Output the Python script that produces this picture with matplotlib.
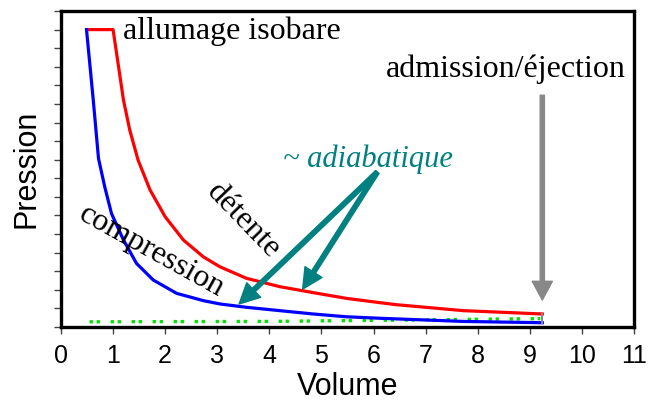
import matplotlib.pyplot as plt

# cycle Diesel
red_v = [0.5, 1.0, 1.2, 1.32, 1.48, 1.71, 2.0, 2.35, 2.73, 3.05, 3.56, 4.2, 4.84, 5.48, 6.12, 6.44, 7.72, 9.24]
red_p = [16.0, 16.0, 12.2, 10.6, 8.98, 7.37, 5.93, 4.68, 3.78, 3.24, 2.62, 2.17, 1.85, 1.54, 1.31, 1.2, 0.88, 0.70]

blue_v = [0.49, 0.62, 0.72, 0.84, 0.97, 1.2, 1.45, 1.77, 2.22, 2.73, 3.05, 3.56, 4.2, 4.84, 5.48, 6.12, 7.72, 9.24]
blue_p = [16.0, 12.2, 9.07, 7.54, 6.1, 4.68, 3.42, 2.53, 1.81, 1.42, 1.24, 1.06, 0.88, 0.70, 0.55, 0.47, 0.30, 0.23]

green_v = [0.55, 4.0, 9.2]
green_p = [0.28, 0.30, 0.45]

x_ticks = list(range(0, 12))
y_ticks = list(range(0, 18))

serif = ['Liberation Serif', 'DejaVu Serif']
sans = ['Liberation Sans', 'DejaVu Sans']

fig = plt.figure(figsize=(6.6, 4.05), dpi=100)
ax = fig.add_axes([0.0924, 0.1926, 0.8682, 0.7802])

ax.plot(green_v, green_p, color='#00e600', linewidth=2.4,
        linestyle=(0, (1, 1.1, 1, 3.2)), solid_capstyle='butt', dash_capstyle='butt')
ax.plot(red_v, red_p, color='#ff0000', linewidth=2.3)
ax.plot(blue_v, blue_p, color='#0000ff', linewidth=2.3)
ax.plot([9.24, 9.24], [0.23, 0.70], color='#888888', linewidth=1.5)

# fleches
ax.annotate('', xy=(9.24, 1.45), xytext=(9.24, 12.47),
            arrowprops=dict(arrowstyle='simple,head_width=1.45,head_length=1.35,tail_width=0.3',
                            mutation_scale=10, color='#888888', shrinkA=0, shrinkB=0))
for tip in [(3.42, 1.24), (4.64, 2.04)]:
    ax.annotate('', xy=tip, xytext=(6.07, 8.33),
                arrowprops=dict(arrowstyle='simple,head_width=1.45,head_length=1.45,tail_width=0.32',
                                mutation_scale=10, color='#008080', shrinkA=0, shrinkB=0))

# textes
ax.text(1.19, 15.9, 'allumage isobare', family=serif, fontsize=23, ha='left', va='center')
ax.text(10.84, 13.85, 'admission/éjection', family=serif, fontsize=23, ha='right', va='center')
ax.text(4.26, 9.05, '~ adiabatique', family=serif, fontsize=22, style='italic',
        color='#008080', ha='left', va='center')
ax.text(3.51, 5.7, 'détente', family=serif, fontsize=23, rotation=-46,
        rotation_mode='anchor', ha='center', va='center')
ax.text(1.74, 4.05, 'compression', family=serif, fontsize=23, rotation=-29,
        rotation_mode='anchor', ha='center', va='center')

ax.set_xlim(0, 11)
ax.set_ylim(0, 17)
ax.set_xticks(x_ticks)
ax.set_yticks(y_ticks)
ax.set_yticklabels([])
ax.tick_params(direction='out', length=5, width=1, color='#444444', labelsize=18, pad=7)
for lab in ax.get_xticklabels():
    lab.set_family(sans)
for s in ax.spines.values():
    s.set_linewidth(2.4)
ax.set_xlabel('Volume', family=sans, fontsize=22, labelpad=3)
ax.set_ylabel('Pression', family=sans, fontsize=22, labelpad=2)

fig.savefig('out.png', dpi=100)
